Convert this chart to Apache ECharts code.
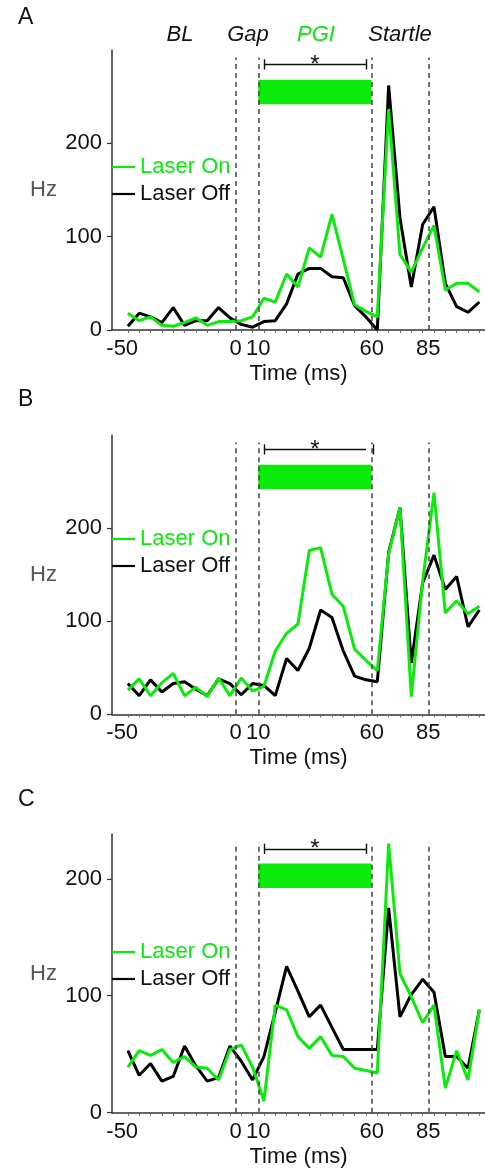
<!DOCTYPE html>
<html>
<head>
<meta charset="utf-8">
<script src="https://cdn.jsdelivr.net/npm/echarts@6/dist/echarts.min.js"></script>
<style>
html,body{margin:0;padding:0;background:#fff;}
#c{width:485px;height:1171px;}
</style>
</head>
<body>
<div id="c"></div>
<script>
// Time bins (ms, bin centres)
const xs = [-47.5,-42.5,-37.5,-32.5,-27.5,-22.5,-17.5,-12.5,-7.5,-2.5,2.5,7.5,12.5,17.5,22.5,27.5,32.5,37.5,42.5,47.5,52.5,57.5,62.5,67.5,72.5,77.5,82.5,87.5,92.5,97.5,102.5,107.5];

// Panel A
const offA = [4,18,14,8,24,5,10,10,24,13,6,3,9,10,28,60,66,66,57,56,26,14,0,262,120,46,113,132,50,25,19,30];
const onA  = [18,10,14,5,4,8,13,5,9,9,10,14,34,30,60,46,88,78,124,76,27,20,14,237,81,62,88,112,43,50,50,41];
// Panel B
const offB = [33,20,37,24,33,35,27,20,38,33,21,33,31,20,60,47,71,112,104,68,41,37,35,174,222,55,141,171,134,148,94,112];
const onB  = [26,38,20,34,44,20,29,19,39,20,39,25,30,68,87,97,176,179,129,116,70,58,47,172,222,19,143,238,109,122,108,116];
// Panel C
const offC = [53,32,42,27,31,57,40,27,30,57,44,28,48,86,125,104,82,92,73,54,54,54,54,175,82,101,114,103,48,48,38,88];
const onC  = [39,53,49,54,43,48,39,38,28,54,58,39,10,92,88,65,55,65,49,48,38,36,34,230,119,99,77,92,21,53,28,88];

// Axis tick labels
const xTickLabels = [-50,0,10,60,85];
const yTickLabels = [0,100,200];
// Event markers (ms)
const events = [0,10,60,85];
const laserWindow = [10,60];
const sigWindow = [12.5,57.5];

const GREEN = '#0aeb0a';
const FONT = '"Liberation Sans", Arial, sans-serif';

const panels = [
  {letter:'A', off:offA, on:onA, top:50,    height:280,   ymax:300, dashTop:292, bar:[242,268], brY:284.6, cap:5.5, legendTop:156, letterY:18,  rightCap:true},
  {letter:'B', off:offB, on:onB, top:435,   height:279.3, ymax:300, dashTop:292, bar:[242,268], brY:284.5, cap:5.5, legendTop:528, letterY:400, rightCap:false},
  {letter:'C', off:offC, on:onC, top:834.3, height:278.4, ymax:238, dashTop:231, bar:[192,213], brY:225.6, cap:4.4, legendTop:941, letterY:800, rightCap:true}
];

const grids = [], xAxes = [], yAxes = [], series = [], legends = [], graphics = [];

panels.forEach((p, i) => {
  grids.push({left:112, top:p.top, width:373, height:p.height, containLabel:false});
  xAxes.push({
    type:'value', gridIndex:i, min:-54.5, max:110,
    name:'Time (ms)', nameLocation:'middle', nameGap:33,
    nameTextStyle:{fontSize:22, color:'#111', fontFamily:FONT},
    axisLine:{show:true, onZero:false, lineStyle:{color:'#333', width:1.5}},
    axisTick:{show:true, customValues:xs, length:3, lineStyle:{color:'#666', width:1}},
    axisLabel:{customValues:xTickLabels, fontSize:22, color:'#111', margin:8, fontFamily:FONT},
    splitLine:{show:false}
  });
  yAxes.push({
    type:'value', gridIndex:i, min:0, max:p.ymax,
    name:'Hz', nameLocation:'middle', nameRotate:0, nameGap:55,
    nameTextStyle:{fontSize:22, color:'#555', fontFamily:FONT},
    axisLine:{show:true, onZero:false, lineStyle:{color:'#333', width:1.5}},
    axisTick:{show:true, customValues:yTickLabels, length:5, lineStyle:{color:'#333', width:1.2}},
    axisLabel:{customValues:yTickLabels, fontSize:22, color:'#111', margin:10, fontFamily:FONT},
    splitLine:{show:false}
  });

  const dashItems = events.map(e => [
    {coord:[e,0], lineStyle:{type:[5,4], color:'#444', width:1.5}},
    {coord:[e,p.dashTop]}
  ]);
  const brStyle = {type:'solid', color:'#111', width:1.4};
  const brItems = [
    [{coord:[sigWindow[0],p.brY], lineStyle:brStyle},{coord:[sigWindow[1],p.brY]}],
    [{coord:[sigWindow[0],p.brY-p.cap], lineStyle:brStyle},{coord:[sigWindow[0],p.brY+p.cap]}]
  ];
  if (p.rightCap) {
    brItems.push([{coord:[sigWindow[1],p.brY-p.cap], lineStyle:brStyle},{coord:[sigWindow[1],p.brY+p.cap]}]);
  } else {
    brItems.push([{coord:[60.6,p.brY-p.cap], lineStyle:brStyle},{coord:[60.6,p.brY+p.cap]}]);
  }

  series.push({
    name:'Laser Off', type:'line', xAxisIndex:i, yAxisIndex:i,
    data: xs.map((x,k)=>[x,p.off[k]]),
    showSymbol:false, symbol:'none',
    lineStyle:{color:'#000', width:3}, itemStyle:{color:'#000'},
    z:3,
    markLine:{silent:true, symbol:['none','none'], label:{show:false}, animation:false, data: dashItems.concat(brItems)},
    markArea:{silent:true, itemStyle:{color:GREEN, opacity:1}, label:{show:false},
      data:[[{coord:[laserWindow[0],p.bar[0]]},{coord:[laserWindow[1],p.bar[1]]}]]},
    markPoint:{silent:true, symbol:'rect', symbolSize:1, itemStyle:{color:'rgba(0,0,0,0)'},
      label:{show:true, formatter:'*', fontSize:24, color:'#111', fontFamily:FONT, offset:[0,2]},
      data:[{coord:[35,p.brY + p.cap*0.2]}]}
  });
  series.push({
    name:'Laser On', type:'line', xAxisIndex:i, yAxisIndex:i,
    data: xs.map((x,k)=>[x,p.on[k]]),
    showSymbol:false, symbol:'none',
    lineStyle:{color:GREEN, width:3}, itemStyle:{color:GREEN},
    z:4
  });

  legends.push({
    orient:'vertical', left:112, top:p.legendTop, itemWidth:23, itemHeight:2.2, itemGap:5,
    icon:'rect', selectedMode:false, padding:0,
    textStyle:{fontSize:22, fontFamily:FONT},
    data:[
      {name:'Laser On', textStyle:{color:GREEN}, itemStyle:{color:GREEN}},
      {name:'Laser Off', textStyle:{color:'#111'}, itemStyle:{color:'#000'}}
    ]
  });

  graphics.push({type:'text', left:18, top:p.letterY-12, style:{text:p.letter, fontSize:23, fill:'#111', fontFamily:FONT}});
});

const annots = [
  {t:'BL', x:180, c:'#111'}, {t:'Gap', x:248, c:'#111'}, {t:'PGI', x:316, c:GREEN}, {t:'Startle', x:400, c:'#111'}
];
annots.forEach(a => graphics.push({
  type:'text', x:a.x, y:35,
  style:{text:a.t, fontSize:22, fontStyle:'italic', fill:a.c, fontFamily:FONT, textAlign:'center', textVerticalAlign:'middle'}
}));

const chart = echarts.init(document.getElementById('c'), null, {renderer:'canvas'});
chart.setOption({
  animation:false,
  backgroundColor:'#fff',
  grid:grids, xAxis:xAxes, yAxis:yAxes, series:series, legend:legends, graphic:graphics
});
</script>
</body>
</html>
